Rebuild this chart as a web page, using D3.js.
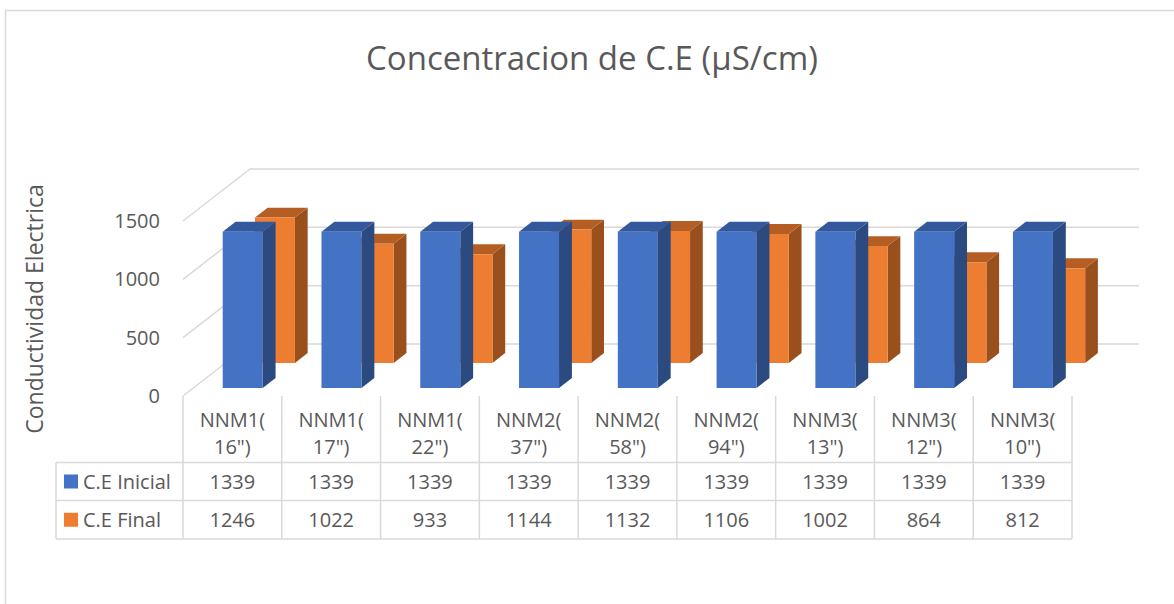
<!DOCTYPE html>
<html>
<head>
<meta charset="utf-8">
<script src="https://cdn.jsdelivr.net/npm/d3@7"></script>
<style>
  body { margin: 0; background: #fff; }
  text { font-family: "Open Sans", sans-serif; fill: #595959; }
</style>
</head>
<body>
<div id="chart"></div>
<script>
// data
var categories = ['NNM1(16")', 'NNM1(17")', 'NNM1(22")', 'NNM2(37")', 'NNM2(58")', 'NNM2(94")', 'NNM3(13")', 'NNM3(12")', 'NNM3(10")'];
var seriesNames = ["C.E Inicial", "C.E Final"];
var inicial = [1339, 1339, 1339, 1339, 1339, 1339, 1339, 1339, 1339];
var final = [1246, 1022, 933, 1144, 1132, 1106, 1002, 864, 812];
var yTicks = [0, 500, 1000, 1500];

var W = 1174, H = 604;
var svg = d3.select("#chart").append("svg")
  .attr("width", W)
  .attr("height", H);

// chart border
svg.append("rect")
  .attr("x", 5.5).attr("y", 10.5)
  .attr("width", W + 10).attr("height", H + 10)
  .attr("fill", "none").attr("stroke", "#d9d9d9").attr("stroke-width", 1.5);

// title
svg.append("text")
  .attr("x", 592).attr("y", 70)
  .attr("text-anchor", "middle")
  .style("font-size", "33px")
  .text("Concentracion de C.E (\u00b5S/cm)");

// scales
var x = d3.scaleBand().domain(categories).range([183, 1072]);
var y = d3.scaleLinear().domain([0, 1500]).range([396, 221]);
var depthX = 67, depthY = 52;   // 3d depth offset
function proj(xf, v, z) { return [xf + z * depthX, y(v) - z * depthY]; }

// walls: side wall diagonals + back wall gridlines
var grid = svg.append("g").attr("stroke", "#d9d9d9").attr("stroke-width", 1.5);
yTicks.forEach(function(t) {
  var a = proj(x.range()[0], t, 0), b = proj(x.range()[0], t, 1), c = proj(x.range()[1], t, 1);
  grid.append("polyline")
    .attr("points", [a, b, c].map(function(p) { return p.join(","); }).join(" "))
    .attr("fill", "none");
});

// y tick labels
svg.selectAll(".ytick")
  .data(yTicks)
  .enter()
  .append("text")
  .attr("class", "ytick")
  .attr("x", 160)
  .attr("y", function(d) { return y(d) + 7; })
  .attr("text-anchor", "end")
  .style("font-size", "20px")
  .text(function(d) { return d; });

// y axis title
svg.append("text")
  .attr("transform", "translate(43,309) rotate(-90)")
  .attr("text-anchor", "middle")
  .style("font-size", "23px")
  .text("Conductividad Electrica");

// bars
var barW = x.bandwidth() * 0.405;
var rows = [
  { name: seriesNames[1], values: final, z0: 0.635, z1: 0.825, front: "#ed7d31", side: "#9a501d", top: "#b55e24" },
  { name: seriesNames[0], values: inicial, z0: 0.154, z1: 0.346, front: "#4472c4", side: "#2b4a80", top: "#33599c" }
];
function pts(arr) { return arr.map(function(p) { return p.join(","); }).join(" "); }

rows.forEach(function(r) {
  var g = svg.append("g");
  var bars = g.selectAll("g.bar")
    .data(categories.map(function(c, i) { return { cat: c, v: r.values[i] }; }))
    .enter()
    .append("g").attr("class", "bar");
  bars.each(function(d) {
    var x0 = x(d.cat) + (x.bandwidth() - barW) / 2, x1 = x0 + barW;
    var s = d3.select(this);
    // side face
    s.append("polygon")
      .attr("points", pts([proj(x1, 0, r.z0), proj(x1, 0, r.z1), proj(x1, d.v, r.z1), proj(x1, d.v, r.z0)]))
      .attr("fill", r.side);
    // top face
    s.append("polygon")
      .attr("points", pts([proj(x0, d.v, r.z0), proj(x1, d.v, r.z0), proj(x1, d.v, r.z1), proj(x0, d.v, r.z1)]))
      .attr("fill", r.top);
    // front face
    s.append("polygon")
      .attr("points", pts([proj(x0, 0, r.z0), proj(x1, 0, r.z0), proj(x1, d.v, r.z0), proj(x0, d.v, r.z0)]))
      .attr("fill", r.front);
  });
});

// data table
var tableLeft = 56;
var rowY = [396, 462.5, 500.5, 539];
var tbl = svg.append("g").attr("stroke", "#d9d9d9").attr("stroke-width", 1.5);
[1, 2, 3].forEach(function(i) {
  tbl.append("line")
    .attr("x1", tableLeft).attr("x2", x.range()[1])
    .attr("y1", rowY[i]).attr("y2", rowY[i]);
});
tbl.append("line")
  .attr("x1", tableLeft).attr("x2", tableLeft)
  .attr("y1", rowY[1]).attr("y2", rowY[3]);
categories.concat([null]).forEach(function(c, i) {
  var xx = i < categories.length ? x(c) : x.range()[1];
  tbl.append("line")
    .attr("x1", xx).attr("x2", xx)
    .attr("y1", rowY[0]).attr("y2", rowY[3]);
});

// category labels (wrapped after "(")
categories.forEach(function(c) {
  var cut = c.indexOf("(") + 1;
  var t = svg.append("text")
    .attr("text-anchor", "middle")
    .style("font-size", "20px");
  t.append("tspan").attr("x", x(c) + x.bandwidth() / 2).attr("y", 427).text(c.slice(0, cut));
  t.append("tspan").attr("x", x(c) + x.bandwidth() / 2).attr("y", 454).text(c.slice(cut));
});

// table values
[inicial, final].forEach(function(vals, k) {
  svg.selectAll(".val" + k)
    .data(vals)
    .enter()
    .append("text")
    .attr("class", "val" + k)
    .attr("x", function(d, i) { return x(categories[i]) + x.bandwidth() / 2; })
    .attr("y", (rowY[k + 1] + rowY[k + 2]) / 2 + 7)
    .attr("text-anchor", "middle")
    .style("font-size", "20px")
    .text(function(d) { return d; });
});

// legend keys in table
var legendColors = ["#4472c4", "#ed7d31"];
seriesNames.forEach(function(n, k) {
  var cy = (rowY[k + 1] + rowY[k + 2]) / 2;
  svg.append("rect")
    .attr("x", 64).attr("y", cy - 7)
    .attr("width", 14).attr("height", 14)
    .attr("fill", legendColors[k]);
  svg.append("text")
    .attr("x", 83).attr("y", cy + 7)
    .style("font-size", "20px")
    .text(n);
});
</script>
</body>
</html>
